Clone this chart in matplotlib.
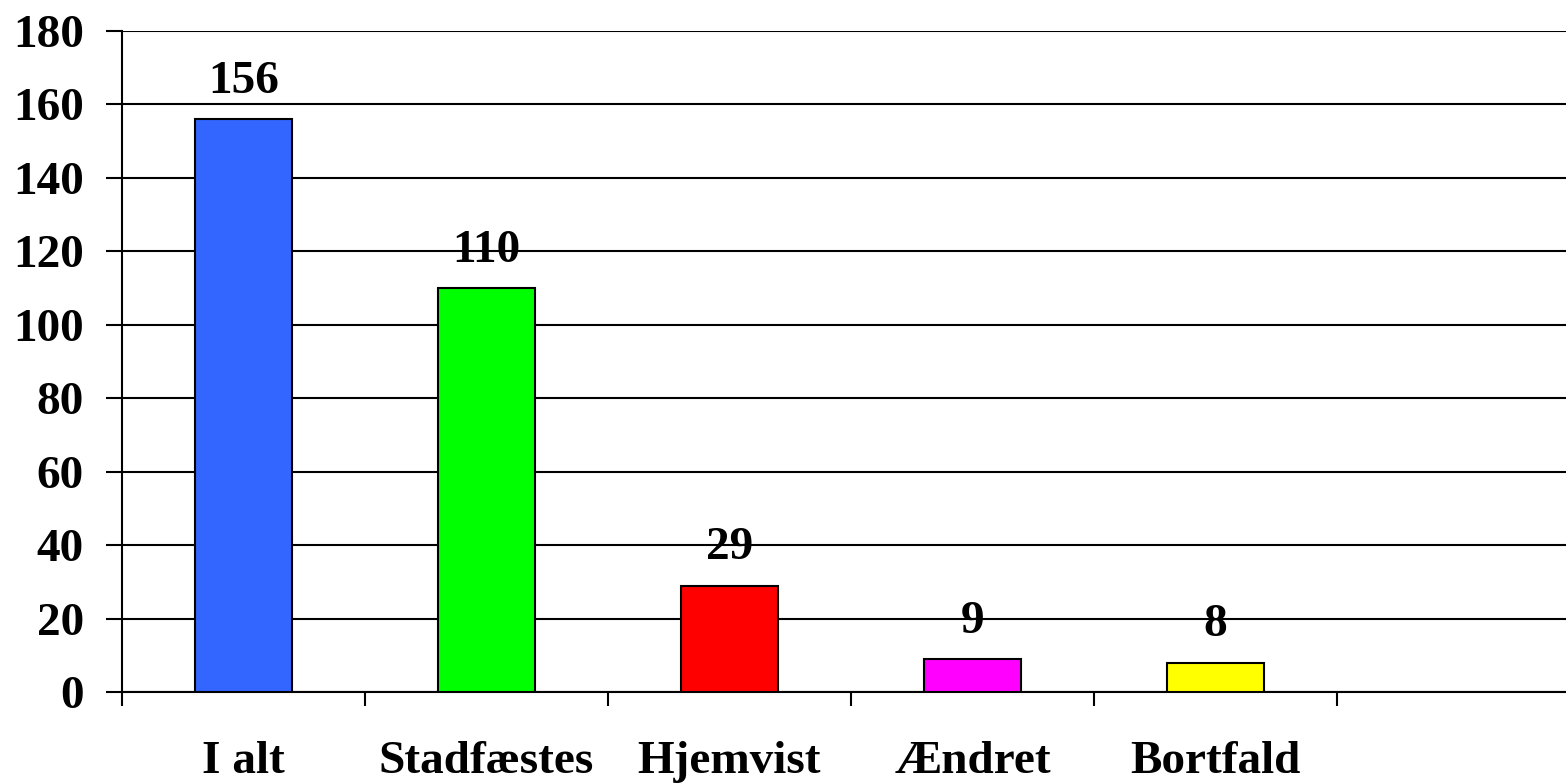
import matplotlib.pyplot as plt

# data
categories = ["I alt", "Stadfæstes", "Hjemvist", "Ændret", "Bortfald"]
values = [156, 110, 29, 9, 8]
bar_colors = ["#3366FF", "#00FF00", "#FF0000", "#FF00FF", "#FFFF00"]
y_ticks = [0, 20, 40, 60, 80, 100, 120, 140, 160, 180]

FONT = "Liberation Serif"
FS = 34
LW = 1.5

plt.rcParams['font.family'] = [FONT, 'DejaVu Serif']
plt.rcParams['font.weight'] = 'bold'

fig = plt.figure(figsize=(15.66, 7.83), dpi=100)
ax = fig.add_axes([122 / 1566, 91 / 783, 1 - 122 / 1566, 661 / 783])

x = list(range(len(categories)))
ax.bar(x, values, width=0.4, color=bar_colors, edgecolor='black',
       linewidth=LW, zorder=3)

for xi, v in zip(x, values):
    ax.annotate(f"{v}", (xi, v), xytext=(0, 19), textcoords='offset points',
                ha='center', va='baseline', fontsize=FS, fontweight='bold',
                zorder=4)

ax.set_ylim(0, 180)
ax.set_yticks(y_ticks)
ax.set_yticklabels([str(t) for t in y_ticks], fontsize=FS, fontweight='bold')
ax.yaxis.grid(True, color='black', linewidth=LW, zorder=0)
ax.set_axisbelow(True)

# category boundaries as ticks, labels centered under bars
ax.set_xlim(-0.5, -0.5 + 1444 / 243)
ax.set_xticks([i - 0.5 for i in range(6)])
ax.set_xticklabels([])
ax.set_xticks(x, minor=True)
ax.set_xticklabels(categories, minor=True, fontsize=FS, fontweight='bold')
ax.tick_params(axis='x', which='minor', length=0, pad=35)
ax.tick_params(axis='x', which='major', length=10, width=LW, direction='out')
ax.tick_params(axis='y', length=11.5, width=LW, direction='out', pad=16)

for s in ['top', 'right']:
    ax.spines[s].set_visible(False)
ax.spines['left'].set_linewidth(LW)
ax.spines['bottom'].set_linewidth(LW)

fig.savefig("out.png", dpi=100)
